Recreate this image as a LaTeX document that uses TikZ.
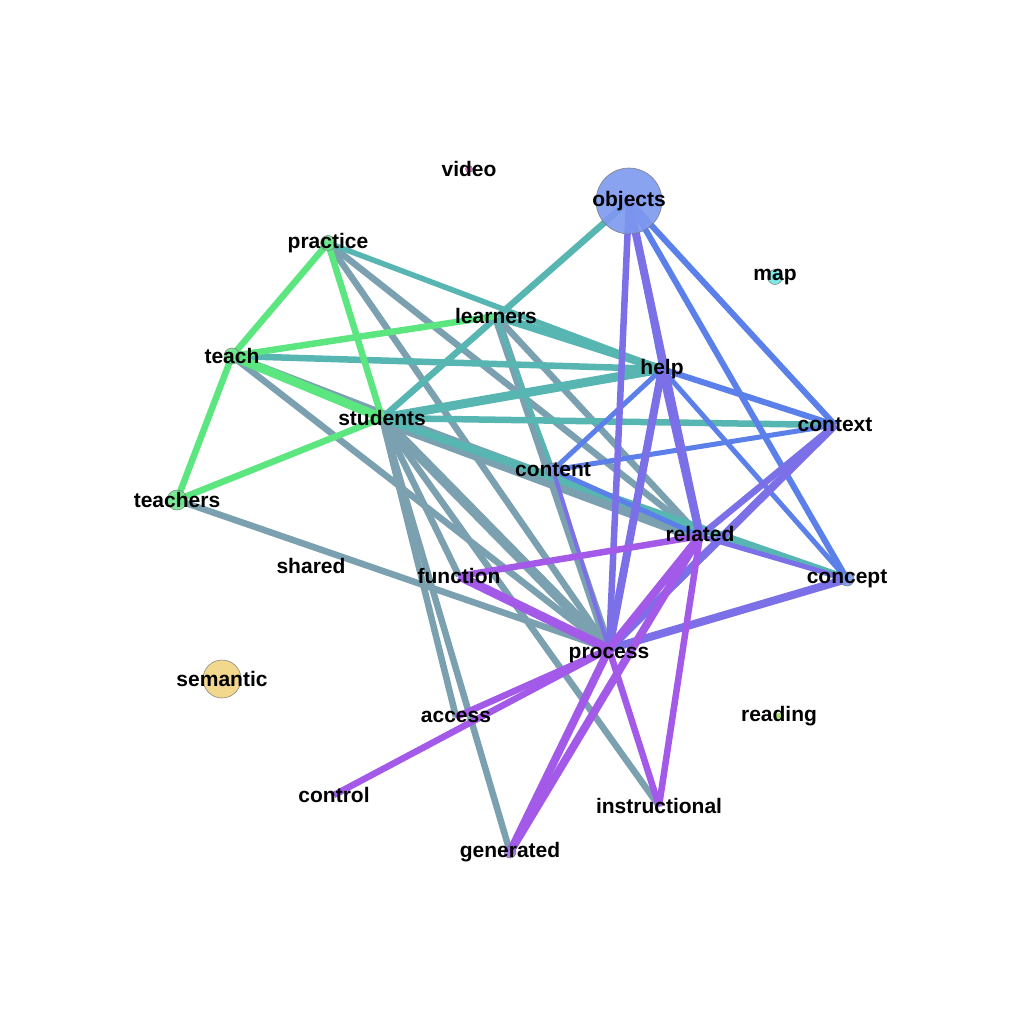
\documentclass[tikz,border=0pt]{standalone}
\usepackage{fontspec}
\setmainfont{Liberation Sans}
\usepackage{xcolor}
\usepackage{tikz}
\usetikzlibrary{backgrounds}
% edge colours
\definecolor{eGreen}{RGB}{92,230,128}
\definecolor{eTeal}{RGB}{88,182,178}
\definecolor{eSlate}{RGB}{123,161,177}
\definecolor{eBlue}{RGB}{92,128,233}
\definecolor{eIndigo}{RGB}{124,112,232}
\definecolor{eViolet}{RGB}{163,90,233}
% vertex colours
\definecolor{vBlue}{RGB}{126,153,239}
\definecolor{vGold}{RGB}{240,212,128}
\definecolor{vGreen}{RGB}{112,230,142}
\definecolor{vCyan}{RGB}{112,230,230}
\definecolor{vPink}{RGB}{230,110,210}
\definecolor{vLime}{RGB}{172,225,112}
\definecolor{vViolet}{RGB}{160,112,232}
\tikzset{
    vert/.style={circle, draw=black!55, line width=0.6pt, inner sep=0pt, fill opacity=0.9, draw opacity=0.8},
    dot/.style={circle, inner sep=0pt, minimum size=2pt},
    lab/.style={font=\fontsize{21}{24}\selectfont\bfseries, text=black, inner sep=0pt}
}

\begin{document}
\begin{tikzpicture}[
        x=1pt, y=-1pt,
        % Style cạnh: màu theo nhóm, độ dày theo trọng số
        gr/.style={draw=eGreen, line width=#1pt}, gr/.default=6.5,
        te/.style={draw=eTeal, line width=#1pt}, te/.default=6.5,
        sl/.style={draw=eSlate, line width=#1pt}, sl/.default=6.5,
        bl/.style={draw=eBlue, line width=#1pt}, bl/.default=6,
        ig/.style={draw=eIndigo, line width=#1pt}, ig/.default=6.5,
        vi/.style={draw=eViolet, line width=#1pt}, vi/.default=6.5
    ]
    \useasboundingbox (0,0) rectangle (1024,1024);

    % --- 1. CÁC ĐỈNH ---
    \node[vert, fill=vPink, minimum size=7pt, label={[lab]center:video}] (video) at (469,169) {};
    \node[vert, fill=vBlue, minimum size=66pt, label={[lab]center:objects}] (objects) at (629,201) {};
    \node[vert, fill=vGreen, minimum size=15pt, label={[lab]center:practice}] (practice) at (328,243) {};
    \node[vert, fill=vCyan, minimum size=15pt, label={[lab]center:map}] (map) at (775,277) {};
    \node[dot, fill=vGreen, minimum size=5pt, label={[lab]center:learners}] (learners) at (496,316) {};
    \node[vert, fill=vGreen, minimum size=16pt, label={[lab]center:teach}] (teach) at (232,356) {};
    \node[dot, fill=eTeal, label={[lab]center:help}] (help) at (662,369) {};
    \node[dot, fill=eSlate, label={[lab]center:students}] (students) at (382,418) {};
    \node[dot, fill=eBlue, label={[lab]center:context}] (context) at (835,425) {};
    \node[vert, fill=vBlue, minimum size=14pt, label={[lab]center:content}] (content) at (553,470) {};
    \node[vert, fill=vGreen, minimum size=20pt, label={[lab]center:teachers}] (teachers) at (177,500) {};
    \node[dot, fill=eIndigo, label={[lab,yshift=2pt]center:related}] (related) at (700,536) {};
    \node[dot, fill=eSlate, minimum size=0pt, label={[lab]center:shared}] (shared) at (311,566) {};
    \node[dot, fill=eViolet, label={[lab]center:function}] (function) at (459,576) {};
    \node[vert, fill=vBlue, minimum size=14pt, label={[lab]center:concept}] (concept) at (847,579) {};
    \node[dot, fill=eViolet, label={[lab,yshift=-6pt]center:process}] (process) at (609,649) {};
    \node[vert, fill=vGold, minimum size=38pt, label={[lab]center:semantic}] (semantic) at (222,679) {};
    \node[dot, fill=eViolet, label={[lab]center:access}] (access) at (456,717) {};
    \node[dot, fill=vLime, minimum size=6pt, label={[lab]center:reading}] (reading) at (779,716) {};
    \node[dot, fill=eViolet, label={[lab]center:control}] (control) at (334,795) {};
    \node[dot, fill=eViolet, label={[lab]center:instructional}] (instructional) at (659,806) {};
    \node[vert, fill=vViolet, minimum size=12pt, label={[lab]center:generated}] (generated) at (510,852) {};

    % --- 2. CÁC CẠNH (vẽ dưới các đỉnh) ---
    \begin{scope}[on background layer]
        \fill[white] (0,0) rectangle (1024,1024);

        % cạnh xám
        \draw[sl] (practice.center) -- (related.center);
        \draw[sl] (practice.center) -- (process.center);
        \draw[sl=8] (teach.center) -- (related.center);
        \draw[sl] (teach.center) -- (process.center);
        \draw[sl] (teachers.center) -- (process.center);
        \draw[sl=9] (learners.center) -- (process.center);
        \draw[sl] (learners.center) -- (related.center);
        \draw[sl=15] (students.center) -- (related.center);
        \draw[sl=10] (students.center) -- (process.center);
        \draw[sl] (students.center) -- (function.center);
        \draw[sl] (students.center) -- (access.center);
        \draw[sl] (students.center) -- (generated.center);
        \draw[sl] (students.center) -- (instructional.center);

        % cạnh xanh ngọc
        \draw[te] (objects.center) -- (students.center);
        \draw[te=5.5] (practice.center) -- (help.center);
        \draw[te] (teach.center) -- (help.center);
        \draw[te=8] (learners.center) -- (help.center);
        \draw[te=4] (learners.center) -- (content.center);
        \draw[te=9] (students.center) -- (help.center);
        \draw[te] (students.center) -- (context.center);
        \draw[te=8] (students.center) -- (concept.center);

        % cạnh xanh lá
        \draw[gr] (practice.center) -- (teach.center);
        \draw[gr] (practice.center) -- (students.center);
        \draw[gr] (teach.center) -- (teachers.center);
        \draw[gr] (teach.center) -- (learners.center);
        \draw[gr=9] (teach.center) -- (students.center);
        \draw[gr] (teachers.center) -- (students.center);

        % cạnh xanh dương
        \draw[bl=5] (objects.center) -- (help.center);
        \draw[bl] (objects.center) -- (context.center);
        \draw[bl] (objects.center) -- (concept.center);
        \draw[bl=5] (help.center) -- (content.center);
        \draw[bl] (help.center) -- (context.center);
        \draw[bl=5] (help.center) -- (concept.center);
        \draw[bl=5] (content.center) -- (context.center);
        \draw[bl=5] (content.center) -- (related.center);

        % cạnh tím xanh
        \draw[ig] (objects.center) -- (process.center);
        \draw[ig=8] (objects.center) -- (related.center);
        \draw[ig=8] (help.center) -- (process.center);
        \draw[ig=8] (help.center) -- (related.center);
        \draw[ig] (context.center) -- (related.center);
        \draw[ig=8] (context.center) -- (process.center);
        \draw[ig=8] (concept.center) -- (process.center);
        \draw[ig=5] (concept.center) -- (related.center);
        \draw[ig=4] (content.center) -- (process.center);

        % cạnh tím
        \draw[vi] (related.center) -- (function.center);
        \draw[vi=9] (function.center) -- (process.center);
        \draw[vi=8] (related.center) -- (process.center);
        \draw[vi=8] (related.center) -- (generated.center);
        \draw[vi=8] (process.center) -- (generated.center);
        \draw[vi] (related.center) -- (instructional.center);
        \draw[vi] (process.center) -- (instructional.center);
        \draw[vi] (process.center) -- (access.center);
        \draw[vi] (process.center) -- (control.center);
    \end{scope}

\end{tikzpicture}
\end{document}
